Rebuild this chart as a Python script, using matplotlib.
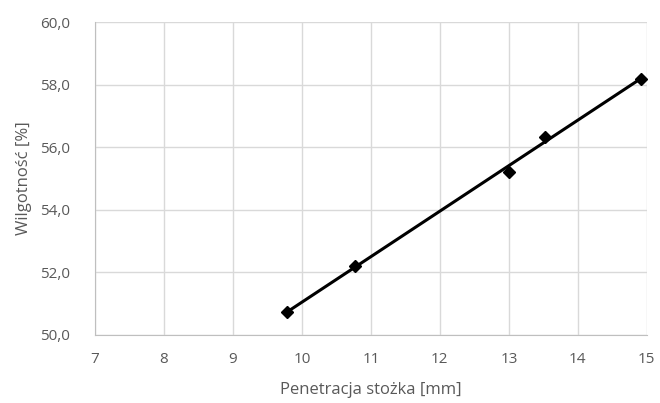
import numpy as np
import matplotlib.pyplot as plt

# punkty pomiarowe
penetracja = np.array([9.79, 10.77, 13.0, 13.52, 14.91])
wilgotnosc = np.array([50.74, 52.2, 55.22, 56.34, 58.18])

x_ticks = [7, 8, 9, 10, 11, 12, 13, 14, 15]
y_ticks = [50, 52, 54, 56, 58, 60]

plt.rcParams['font.family'] = ['Open Sans', 'DejaVu Sans']

fig = plt.figure(figsize=(6.6, 4.03), dpi=100)
ax = fig.add_axes([0.144, 0.169, 0.836, 0.776])

# linia trendu (liniowa)
par = np.polyfit(penetracja, wilgotnosc, 1)
x_fit = np.array([penetracja.min(), penetracja.max()])
ax.plot(x_fit, np.polyval(par, x_fit), color='black', lw=2.2, zorder=3)
ax.plot(penetracja, wilgotnosc, 'D', color='black', ms=6.5, zorder=4)

ax.set_xlim(7, 15)
ax.set_ylim(50, 60)
ax.set_xticks(x_ticks)
ax.set_yticks(y_ticks)
ax.set_yticklabels([f"{v:.1f}".replace('.', ',') for v in y_ticks])
ax.grid(True, color='#d9d9d9', lw=1)
ax.set_axisbelow(True)
for s in ax.spines.values():
    s.set_visible(False)
ax.spines['left'].set_visible(True)
ax.spines['bottom'].set_visible(True)
ax.spines['left'].set_color('#bfbfbf')
ax.spines['bottom'].set_color('#bfbfbf')
ax.tick_params(axis='y', length=0, labelsize=11, colors='#595959', pad=18)
ax.tick_params(axis='x', length=0, labelsize=11, colors='#595959', pad=12)

ax.set_xlabel("Penetracja stożka [mm]", fontsize=12, color='#595959', labelpad=11)
ax.set_ylabel("Wilgotność [%]", fontsize=12, color='#595959', labelpad=6)

fig.savefig("out.png", dpi=100)
